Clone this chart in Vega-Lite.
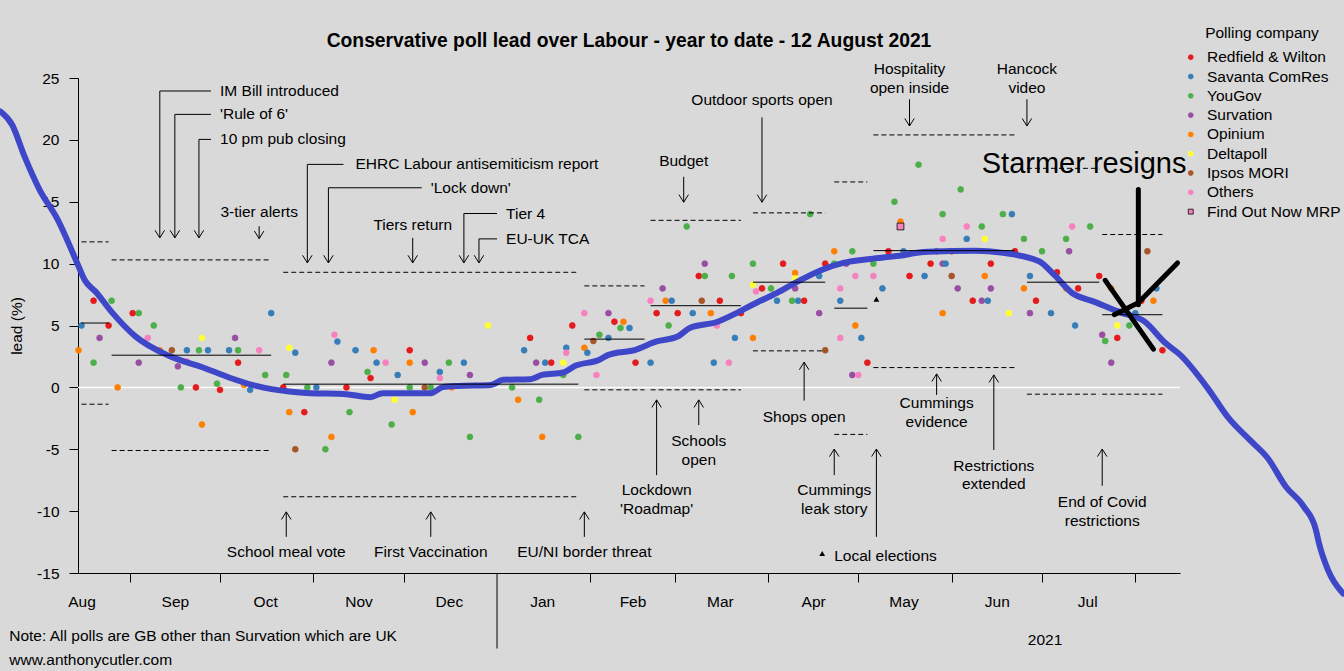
{
  "$schema": "https://vega.github.io/schema/vega-lite/v6.json",
  "width": 1102,
  "height": 495,
  "autosize": {"type": "none"},
  "padding": {"left": 78, "top": 78, "right": 164, "bottom": 98},
  "background": "#d9d9d9",
  "title": {
    "text": "Conservative poll lead over Labour - year to date - 12 August 2021",
    "fontSize": 19.3,
    "fontWeight": "bold",
    "color": "black",
    "anchor": "middle",
    "frame": "group",
    "offset": -26
  },
  "config": {
    "font": "Liberation Sans",
    "view": {"stroke": null},
    "axis": {
      "domainColor": "black",
      "tickColor": "black",
      "labelColor": "black",
      "labelFontSize": 15.5,
      "titleColor": "black",
      "titleFontSize": 15.5,
      "titleFontWeight": "normal",
      "grid": false,
      "labelFlush": false,
      "labelOverlap": false
    },
    "axisY": {"tickSize": 9, "labelPadding": 10, "titlePadding": 12},
    "text": {"fontSize": 15.5, "color": "black"}
  },
  "datasets": {
    "polls": [
      {"date": "2020-08-15", "lead": 3, "pollster": "Opinium"},
      {"date": "2020-08-16", "lead": 5, "pollster": "Savanta ComRes"},
      {"date": "2020-08-20", "lead": 7, "pollster": "Redfield & Wilton"},
      {"date": "2020-08-20", "lead": 2, "pollster": "YouGov"},
      {"date": "2020-08-22", "lead": 4, "pollster": "Survation"},
      {"date": "2020-08-26", "lead": 7, "pollster": "YouGov"},
      {"date": "2020-08-25", "lead": 5, "pollster": "Redfield & Wilton"},
      {"date": "2020-08-28", "lead": 0, "pollster": "Opinium"},
      {"date": "2020-09-02", "lead": 6, "pollster": "Redfield & Wilton"},
      {"date": "2020-09-04", "lead": 6, "pollster": "YouGov"},
      {"date": "2020-09-04", "lead": 2, "pollster": "Survation"},
      {"date": "2020-09-07", "lead": 4, "pollster": "Others"},
      {"date": "2020-09-09", "lead": 5, "pollster": "YouGov"},
      {"date": "2020-09-11", "lead": 3, "pollster": "Opinium"},
      {"date": "2020-09-15", "lead": 3, "pollster": "Ipsos MORI"},
      {"date": "2020-09-17", "lead": 1.7, "pollster": "Survation"},
      {"date": "2020-09-20", "lead": 2.1, "pollster": "Others"},
      {"date": "2020-09-18", "lead": 0, "pollster": "YouGov"},
      {"date": "2020-09-20", "lead": 3, "pollster": "Savanta ComRes"},
      {"date": "2020-09-23", "lead": 0, "pollster": "Redfield & Wilton"},
      {"date": "2020-09-24", "lead": 3, "pollster": "YouGov"},
      {"date": "2020-09-25", "lead": 4, "pollster": "Deltapoll"},
      {"date": "2020-09-27", "lead": 3, "pollster": "Savanta ComRes"},
      {"date": "2020-09-25", "lead": -3, "pollster": "Opinium"},
      {"date": "2020-09-30", "lead": 0.3, "pollster": "YouGov"},
      {"date": "2020-10-01", "lead": -0.2, "pollster": "Redfield & Wilton"},
      {"date": "2020-10-04", "lead": 3, "pollster": "Savanta ComRes"},
      {"date": "2020-10-06", "lead": 4, "pollster": "Survation"},
      {"date": "2020-10-07", "lead": 3, "pollster": "YouGov"},
      {"date": "2020-10-07", "lead": 2, "pollster": "Redfield & Wilton"},
      {"date": "2020-10-09", "lead": 0.2, "pollster": "Opinium"},
      {"date": "2020-10-11", "lead": -0.2, "pollster": "Savanta ComRes"},
      {"date": "2020-10-14", "lead": 3, "pollster": "Others"},
      {"date": "2020-10-16", "lead": 1, "pollster": "YouGov"},
      {"date": "2020-10-18", "lead": 6, "pollster": "Savanta ComRes"},
      {"date": "2020-10-23", "lead": 1, "pollster": "YouGov"},
      {"date": "2020-10-24", "lead": 3.2, "pollster": "Deltapoll"},
      {"date": "2020-10-26", "lead": 2.8, "pollster": "Savanta ComRes"},
      {"date": "2020-10-22", "lead": 0, "pollster": "Redfield & Wilton"},
      {"date": "2020-10-24", "lead": -2, "pollster": "Opinium"},
      {"date": "2020-10-29", "lead": -2, "pollster": "Redfield & Wilton"},
      {"date": "2020-10-30", "lead": 0, "pollster": "YouGov"},
      {"date": "2020-11-02", "lead": 0, "pollster": "Savanta ComRes"},
      {"date": "2020-10-26", "lead": -5, "pollster": "Ipsos MORI"},
      {"date": "2020-11-05", "lead": -5, "pollster": "YouGov"},
      {"date": "2020-11-07", "lead": -4, "pollster": "Opinium"},
      {"date": "2020-11-07", "lead": 2, "pollster": "Survation"},
      {"date": "2020-11-08", "lead": 4.25, "pollster": "Others"},
      {"date": "2020-11-09", "lead": 3.7, "pollster": "Savanta ComRes"},
      {"date": "2020-11-12", "lead": 0, "pollster": "Redfield & Wilton"},
      {"date": "2020-11-13", "lead": -2, "pollster": "YouGov"},
      {"date": "2020-11-15", "lead": 3, "pollster": "Savanta ComRes"},
      {"date": "2020-11-19", "lead": 1.25, "pollster": "YouGov"},
      {"date": "2020-11-20", "lead": 0.75, "pollster": "Redfield & Wilton"},
      {"date": "2020-11-21", "lead": 3, "pollster": "Opinium"},
      {"date": "2020-11-22", "lead": 2, "pollster": "Savanta ComRes"},
      {"date": "2020-11-25", "lead": 2, "pollster": "Others"},
      {"date": "2020-11-28", "lead": -1, "pollster": "Deltapoll"},
      {"date": "2020-11-27", "lead": -3, "pollster": "YouGov"},
      {"date": "2020-11-29", "lead": 1, "pollster": "Savanta ComRes"},
      {"date": "2020-12-03", "lead": 3, "pollster": "Redfield & Wilton"},
      {"date": "2020-12-03", "lead": 2, "pollster": "Opinium"},
      {"date": "2020-12-03", "lead": 0, "pollster": "YouGov"},
      {"date": "2020-12-04", "lead": -2, "pollster": "Opinium"},
      {"date": "2020-12-08", "lead": 2, "pollster": "Survation"},
      {"date": "2020-12-08", "lead": 0, "pollster": "Ipsos MORI"},
      {"date": "2020-12-10", "lead": 0, "pollster": "YouGov"},
      {"date": "2020-12-13", "lead": 1.25, "pollster": "Savanta ComRes"},
      {"date": "2020-12-13", "lead": 0.75, "pollster": "Others"},
      {"date": "2020-12-16", "lead": 2, "pollster": "YouGov"},
      {"date": "2020-12-17", "lead": 0, "pollster": "Opinium"},
      {"date": "2020-12-21", "lead": 2, "pollster": "Savanta ComRes"},
      {"date": "2020-12-23", "lead": -4, "pollster": "YouGov"},
      {"date": "2020-12-23", "lead": 1, "pollster": "Survation"},
      {"date": "2020-12-29", "lead": 5, "pollster": "Deltapoll"},
      {"date": "2021-01-06", "lead": 0, "pollster": "YouGov"},
      {"date": "2021-01-08", "lead": -1, "pollster": "Opinium"},
      {"date": "2021-01-10", "lead": 3, "pollster": "Savanta ComRes"},
      {"date": "2021-01-12", "lead": 4, "pollster": "Redfield & Wilton"},
      {"date": "2021-01-14", "lead": 2, "pollster": "Survation"},
      {"date": "2021-01-15", "lead": -1, "pollster": "YouGov"},
      {"date": "2021-01-16", "lead": -4, "pollster": "Opinium"},
      {"date": "2021-01-17", "lead": 2, "pollster": "Savanta ComRes"},
      {"date": "2021-01-19", "lead": 2, "pollster": "Redfield & Wilton"},
      {"date": "2021-01-23", "lead": 1, "pollster": "YouGov"},
      {"date": "2021-01-23", "lead": 2, "pollster": "Deltapoll"},
      {"date": "2021-01-24", "lead": 3.2, "pollster": "Savanta ComRes"},
      {"date": "2021-01-24", "lead": 2.8, "pollster": "Others"},
      {"date": "2021-01-26", "lead": 5, "pollster": "Redfield & Wilton"},
      {"date": "2021-01-28", "lead": -4, "pollster": "YouGov"},
      {"date": "2021-01-30", "lead": 6, "pollster": "Others"},
      {"date": "2021-01-30", "lead": 3.2, "pollster": "Opinium"},
      {"date": "2021-01-31", "lead": 2.8, "pollster": "Savanta ComRes"},
      {"date": "2021-02-02", "lead": 3.75, "pollster": "Ipsos MORI"},
      {"date": "2021-02-04", "lead": 4.25, "pollster": "YouGov"},
      {"date": "2021-02-03", "lead": 1, "pollster": "Others"},
      {"date": "2021-02-07", "lead": 6, "pollster": "Survation"},
      {"date": "2021-02-07", "lead": 4, "pollster": "Savanta ComRes"},
      {"date": "2021-02-09", "lead": 5.3, "pollster": "Redfield & Wilton"},
      {"date": "2021-02-11", "lead": 4.8, "pollster": "YouGov"},
      {"date": "2021-02-12", "lead": 5.3, "pollster": "Opinium"},
      {"date": "2021-02-14", "lead": 4.8, "pollster": "Savanta ComRes"},
      {"date": "2021-02-16", "lead": 2, "pollster": "Redfield & Wilton"},
      {"date": "2021-02-21", "lead": 2, "pollster": "Savanta ComRes"},
      {"date": "2021-02-21", "lead": 7, "pollster": "Others"},
      {"date": "2021-02-23", "lead": 6, "pollster": "Redfield & Wilton"},
      {"date": "2021-02-25", "lead": 8, "pollster": "Survation"},
      {"date": "2021-02-26", "lead": 7, "pollster": "Opinium"},
      {"date": "2021-02-27", "lead": 5, "pollster": "YouGov"},
      {"date": "2021-02-28", "lead": 7, "pollster": "Savanta ComRes"},
      {"date": "2021-03-02", "lead": 6, "pollster": "Redfield & Wilton"},
      {"date": "2021-03-05", "lead": 13, "pollster": "YouGov"},
      {"date": "2021-03-07", "lead": 6, "pollster": "Savanta ComRes"},
      {"date": "2021-03-09", "lead": 9, "pollster": "Redfield & Wilton"},
      {"date": "2021-03-11", "lead": 10, "pollster": "Survation"},
      {"date": "2021-03-11", "lead": 9, "pollster": "YouGov"},
      {"date": "2021-03-10", "lead": 7, "pollster": "Ipsos MORI"},
      {"date": "2021-03-13", "lead": 6, "pollster": "Opinium"},
      {"date": "2021-03-14", "lead": 2, "pollster": "Savanta ComRes"},
      {"date": "2021-03-15", "lead": 5, "pollster": "Others"},
      {"date": "2021-03-16", "lead": 7, "pollster": "Redfield & Wilton"},
      {"date": "2021-03-19", "lead": 2, "pollster": "Others"},
      {"date": "2021-03-20", "lead": 9, "pollster": "YouGov"},
      {"date": "2021-03-21", "lead": 4, "pollster": "Savanta ComRes"},
      {"date": "2021-03-23", "lead": 6, "pollster": "Redfield & Wilton"},
      {"date": "2021-03-27", "lead": 10, "pollster": "YouGov"},
      {"date": "2021-03-27", "lead": 4, "pollster": "Opinium"},
      {"date": "2021-03-27", "lead": 8.3, "pollster": "Deltapoll"},
      {"date": "2021-03-28", "lead": 7.75, "pollster": "Others"},
      {"date": "2021-03-30", "lead": 8, "pollster": "Redfield & Wilton"},
      {"date": "2021-04-02", "lead": 8, "pollster": "YouGov"},
      {"date": "2021-04-04", "lead": 7, "pollster": "Savanta ComRes"},
      {"date": "2021-04-06", "lead": 10, "pollster": "Redfield & Wilton"},
      {"date": "2021-04-09", "lead": 7, "pollster": "YouGov"},
      {"date": "2021-04-10", "lead": 9.25, "pollster": "Opinium"},
      {"date": "2021-04-10", "lead": 8.8, "pollster": "Deltapoll"},
      {"date": "2021-04-10", "lead": 8, "pollster": "Survation"},
      {"date": "2021-04-11", "lead": 7, "pollster": "Savanta ComRes"},
      {"date": "2021-04-13", "lead": 7, "pollster": "Redfield & Wilton"},
      {"date": "2021-04-15", "lead": 14, "pollster": "YouGov"},
      {"date": "2021-04-18", "lead": 6, "pollster": "Survation"},
      {"date": "2021-04-18", "lead": 9, "pollster": "Savanta ComRes"},
      {"date": "2021-04-20", "lead": 10, "pollster": "Redfield & Wilton"},
      {"date": "2021-04-20", "lead": 3, "pollster": "Ipsos MORI"},
      {"date": "2021-04-23", "lead": 10, "pollster": "YouGov"},
      {"date": "2021-04-23", "lead": 11, "pollster": "Opinium"},
      {"date": "2021-04-25", "lead": 8, "pollster": "Others"},
      {"date": "2021-04-25", "lead": 7, "pollster": "Savanta ComRes"},
      {"date": "2021-04-25", "lead": 4, "pollster": "Others"},
      {"date": "2021-04-27", "lead": 10, "pollster": "Survation"},
      {"date": "2021-04-29", "lead": 11, "pollster": "YouGov"},
      {"date": "2021-04-30", "lead": 9, "pollster": "Others"},
      {"date": "2021-04-29", "lead": 1, "pollster": "Survation"},
      {"date": "2021-05-01", "lead": 1, "pollster": "Others"},
      {"date": "2021-04-30", "lead": 5, "pollster": "Opinium"},
      {"date": "2021-05-02", "lead": 4, "pollster": "Savanta ComRes"},
      {"date": "2021-05-04", "lead": 2, "pollster": "Redfield & Wilton"},
      {"date": "2021-05-06", "lead": 10, "pollster": "YouGov"},
      {"date": "2021-05-06", "lead": 9, "pollster": "Others"},
      {"date": "2021-05-09", "lead": 8, "pollster": "Savanta ComRes"},
      {"date": "2021-05-11", "lead": 11, "pollster": "Redfield & Wilton"},
      {"date": "2021-05-21", "lead": 18, "pollster": "YouGov"},
      {"date": "2021-06-04", "lead": 16, "pollster": "YouGov"},
      {"date": "2021-05-13", "lead": 15, "pollster": "YouGov"},
      {"date": "2021-05-29", "lead": 14, "pollster": "YouGov"},
      {"date": "2021-06-18", "lead": 14, "pollster": "YouGov"},
      {"date": "2021-06-21", "lead": 14, "pollster": "Savanta ComRes"},
      {"date": "2021-05-15", "lead": 13.4, "pollster": "Opinium"},
      {"date": "2021-05-15", "lead": 13, "pollster": "Find Out Now MRP"},
      {"date": "2021-06-06", "lead": 13, "pollster": "Others"},
      {"date": "2021-06-11", "lead": 13, "pollster": "YouGov"},
      {"date": "2021-07-11", "lead": 13, "pollster": "Others"},
      {"date": "2021-07-17", "lead": 13, "pollster": "YouGov"},
      {"date": "2021-05-29", "lead": 12, "pollster": "Others"},
      {"date": "2021-06-06", "lead": 12, "pollster": "Savanta ComRes"},
      {"date": "2021-06-12", "lead": 12, "pollster": "Deltapoll"},
      {"date": "2021-06-25", "lead": 12, "pollster": "YouGov"},
      {"date": "2021-07-09", "lead": 12, "pollster": "YouGov"},
      {"date": "2021-05-16", "lead": 11, "pollster": "Savanta ComRes"},
      {"date": "2021-05-27", "lead": 11, "pollster": "Survation"},
      {"date": "2021-06-01", "lead": 11, "pollster": "Redfield & Wilton"},
      {"date": "2021-06-22", "lead": 11, "pollster": "Redfield & Wilton"},
      {"date": "2021-07-01", "lead": 11, "pollster": "YouGov"},
      {"date": "2021-07-10", "lead": 11, "pollster": "Survation"},
      {"date": "2021-08-05", "lead": 11, "pollster": "Ipsos MORI"},
      {"date": "2021-05-25", "lead": 10, "pollster": "Redfield & Wilton"},
      {"date": "2021-05-29", "lead": 10, "pollster": "Survation"},
      {"date": "2021-05-30", "lead": 10, "pollster": "Savanta ComRes"},
      {"date": "2021-06-14", "lead": 10, "pollster": "Redfield & Wilton"},
      {"date": "2021-05-18", "lead": 9, "pollster": "Redfield & Wilton"},
      {"date": "2021-05-23", "lead": 9, "pollster": "Savanta ComRes"},
      {"date": "2021-06-01", "lead": 9, "pollster": "Ipsos MORI"},
      {"date": "2021-06-12", "lead": 9, "pollster": "Opinium"},
      {"date": "2021-06-27", "lead": 9, "pollster": "Savanta ComRes"},
      {"date": "2021-07-06", "lead": 9.3, "pollster": "Redfield & Wilton"},
      {"date": "2021-07-20", "lead": 9, "pollster": "Redfield & Wilton"},
      {"date": "2021-06-03", "lead": 8, "pollster": "Survation"},
      {"date": "2021-06-14", "lead": 8, "pollster": "Survation"},
      {"date": "2021-06-25", "lead": 8, "pollster": "Opinium"},
      {"date": "2021-07-09", "lead": 8, "pollster": "Opinium"},
      {"date": "2021-07-13", "lead": 8, "pollster": "Redfield & Wilton"},
      {"date": "2021-07-24", "lead": 8, "pollster": "Opinium"},
      {"date": "2021-08-08", "lead": 8, "pollster": "Savanta ComRes"},
      {"date": "2021-06-08", "lead": 7, "pollster": "Redfield & Wilton"},
      {"date": "2021-06-11", "lead": 7, "pollster": "Survation"},
      {"date": "2021-06-13", "lead": 7, "pollster": "Savanta ComRes"},
      {"date": "2021-06-29", "lead": 7, "pollster": "Redfield & Wilton"},
      {"date": "2021-08-03", "lead": 7, "pollster": "Redfield & Wilton"},
      {"date": "2021-08-07", "lead": 7, "pollster": "Opinium"},
      {"date": "2021-05-29", "lead": 6, "pollster": "Opinium"},
      {"date": "2021-06-20", "lead": 6, "pollster": "Deltapoll"},
      {"date": "2021-06-27", "lead": 6, "pollster": "Survation"},
      {"date": "2021-07-04", "lead": 6, "pollster": "Savanta ComRes"},
      {"date": "2021-08-01", "lead": 6, "pollster": "Savanta ComRes"},
      {"date": "2021-07-12", "lead": 5, "pollster": "Savanta ComRes"},
      {"date": "2021-07-26", "lead": 5, "pollster": "Deltapoll"},
      {"date": "2021-07-30", "lead": 5, "pollster": "YouGov"},
      {"date": "2021-07-21", "lead": 4.25, "pollster": "Survation"},
      {"date": "2021-07-22", "lead": 3.75, "pollster": "YouGov"},
      {"date": "2021-07-26", "lead": 4, "pollster": "Redfield & Wilton"},
      {"date": "2021-07-24", "lead": 2, "pollster": "Survation"},
      {"date": "2021-08-10", "lead": 3, "pollster": "Redfield & Wilton"}
    ],
    "trend": [
      {"date": "2020-07-20", "lead": 22.3},
      {"date": "2020-07-24", "lead": 21.2},
      {"date": "2020-07-28", "lead": 18.7},
      {"date": "2020-08-02", "lead": 16.0},
      {"date": "2020-08-08", "lead": 13.6},
      {"date": "2020-08-15", "lead": 9.8},
      {"date": "2020-08-17", "lead": 8.7},
      {"date": "2020-08-21", "lead": 7.65},
      {"date": "2020-08-26", "lead": 6.1},
      {"date": "2020-09-03", "lead": 4.1},
      {"date": "2020-09-14", "lead": 2.55},
      {"date": "2020-09-26", "lead": 1.55},
      {"date": "2020-10-04", "lead": 0.8},
      {"date": "2020-10-13", "lead": 0.12},
      {"date": "2020-10-24", "lead": -0.34},
      {"date": "2020-10-31", "lead": -0.47},
      {"date": "2020-11-11", "lead": -0.53},
      {"date": "2020-11-20", "lead": -0.79},
      {"date": "2020-11-24", "lead": -0.47},
      {"date": "2020-12-10", "lead": -0.47},
      {"date": "2020-12-14", "lead": 0.02},
      {"date": "2020-12-19", "lead": 0.12},
      {"date": "2020-12-30", "lead": 0.2},
      {"date": "2021-01-03", "lead": 0.61},
      {"date": "2021-01-12", "lead": 0.66},
      {"date": "2021-01-16", "lead": 1.01},
      {"date": "2021-01-23", "lead": 1.2},
      {"date": "2021-01-27", "lead": 1.74},
      {"date": "2021-02-04", "lead": 2.23},
      {"date": "2021-02-07", "lead": 2.63},
      {"date": "2021-02-16", "lead": 3.04},
      {"date": "2021-02-23", "lead": 3.71},
      {"date": "2021-03-02", "lead": 4.11},
      {"date": "2021-03-06", "lead": 4.79},
      {"date": "2021-03-15", "lead": 5.28},
      {"date": "2021-03-22", "lead": 6.06},
      {"date": "2021-03-28", "lead": 6.82},
      {"date": "2021-04-04", "lead": 7.63},
      {"date": "2021-04-10", "lead": 8.44},
      {"date": "2021-04-19", "lead": 9.51},
      {"date": "2021-04-26", "lead": 10.06},
      {"date": "2021-05-05", "lead": 10.38},
      {"date": "2021-05-13", "lead": 10.59},
      {"date": "2021-05-24", "lead": 10.95},
      {"date": "2021-06-09", "lead": 11.05},
      {"date": "2021-06-18", "lead": 10.87},
      {"date": "2021-06-30", "lead": 10.19},
      {"date": "2021-07-05", "lead": 9.11},
      {"date": "2021-07-11", "lead": 7.63},
      {"date": "2021-07-18", "lead": 6.95},
      {"date": "2021-07-27", "lead": 6.06},
      {"date": "2021-08-04", "lead": 5.33},
      {"date": "2021-08-11", "lead": 3.58},
      {"date": "2021-08-16", "lead": 2.6},
      {"date": "2021-08-25", "lead": -0.06},
      {"date": "2021-09-01", "lead": -2.49},
      {"date": "2021-09-08", "lead": -4.25},
      {"date": "2021-09-14", "lead": -5.73},
      {"date": "2021-09-20", "lead": -8.03},
      {"date": "2021-09-26", "lead": -9.65},
      {"date": "2021-09-30", "lead": -11.54},
      {"date": "2021-10-01", "lead": -12.6},
      {"date": "2021-10-04", "lead": -14.77},
      {"date": "2021-10-09", "lead": -16.66}
    ],
    "bands": [
      {"start": "2020-08-16", "end": "2020-08-25", "upper": 11.76, "mean": 5.2, "lower": -1.36},
      {"start": "2020-08-26", "end": "2020-10-18", "upper": 10.3, "mean": 2.6, "lower": -5.1},
      {"start": "2020-10-22", "end": "2021-01-28", "upper": 9.3, "mean": 0.26, "lower": -8.84},
      {"start": "2021-01-30", "end": "2021-02-19", "upper": 8.2, "mean": 3.9, "lower": -0.2},
      {"start": "2021-02-21", "end": "2021-03-23", "upper": 13.5, "mean": 6.6, "lower": -0.2},
      {"start": "2021-03-27", "end": "2021-04-20", "upper": 14.1, "mean": 8.5, "lower": 2.95},
      {"start": "2021-04-23", "end": "2021-05-04", "upper": 16.6, "mean": 6.4, "lower": -3.8},
      {"start": "2021-05-06", "end": "2021-06-22", "upper": 20.4, "mean": 11.05, "lower": 1.6},
      {"start": "2021-06-26", "end": "2021-07-20", "upper": 17.7, "mean": 8.5, "lower": -0.55},
      {"start": "2021-07-21", "end": "2021-08-10", "upper": 12.35, "mean": 5.87, "lower": -0.55}
    ],
    "arrows": [
      {"event": "IM Bill introduced", "date": "2020-09-11", "from": 23.95, "to": 12.08},
      {"event": "Rule of 6", "date": "2020-09-16", "from": 22.06, "to": 12.08},
      {"event": "10 pm pub closing", "date": "2020-09-24", "from": 20.04, "to": 12.08},
      {"event": "3-tier alerts", "date": "2020-10-14", "from": 13.02, "to": 12.02},
      {"event": "EHRC report", "date": "2020-10-30", "from": 18.02, "to": 10.06},
      {"event": "Lock down", "date": "2020-11-06", "from": 16.13, "to": 10.06},
      {"event": "Tiers return", "date": "2020-12-04", "from": 12.08, "to": 10.06},
      {"event": "Tier 4", "date": "2020-12-21", "from": 14.05, "to": 10.06},
      {"event": "EU-UK TCA", "date": "2020-12-26", "from": 12.0, "to": 10.06},
      {"event": "Budget", "date": "2021-03-04", "from": 17.02, "to": 14.96},
      {"event": "Outdoor sports open", "date": "2021-03-30", "from": 21.82, "to": 14.96},
      {"event": "Hospitality open inside", "date": "2021-05-18", "from": 23.28, "to": 21.12},
      {"event": "Hancock video", "date": "2021-06-26", "from": 23.28, "to": 21.12},
      {"event": "School meal vote", "date": "2020-10-23", "from": -12.08, "to": -10.06},
      {"event": "First Vaccination", "date": "2020-12-10", "from": -12.08, "to": -10.06},
      {"event": "EU/NI border threat", "date": "2021-01-30", "from": -12.08, "to": -10.06},
      {"event": "Lockdown Roadmap", "date": "2021-02-23", "from": -7.09, "to": -1.01},
      {"event": "Schools open", "date": "2021-03-09", "from": -3.04, "to": -1.01},
      {"event": "Shops open", "date": "2021-04-13", "from": -1.07, "to": 2.04},
      {"event": "Cummings leak story", "date": "2021-04-23", "from": -7.09, "to": -4.98},
      {"event": "Local elections", "date": "2021-05-07", "from": -12.08, "to": -4.98},
      {"event": "Cummings evidence", "date": "2021-05-27", "from": -0.61, "to": 1.09},
      {"event": "Restrictions extended", "date": "2021-06-15", "from": -5.06, "to": 1.01},
      {"event": "End of Covid restrictions", "date": "2021-07-21", "from": -7.95, "to": -4.98}
    ],
    "elbows": [
      {"event": "IM Bill introduced", "start": "2020-09-11", "end": "2020-09-28", "lead": 23.95},
      {"event": "Rule of 6", "start": "2020-09-16", "end": "2020-09-28", "lead": 22.06},
      {"event": "10 pm pub closing", "start": "2020-09-24", "end": "2020-09-28", "lead": 20.04},
      {"event": "EHRC report", "start": "2020-10-30", "end": "2020-11-11", "lead": 18.02},
      {"event": "Lock down", "start": "2020-11-06", "end": "2020-12-07", "lead": 16.13},
      {"event": "Tier 4", "start": "2020-12-21", "end": "2021-01-01", "lead": 14.05},
      {"event": "EU-UK TCA", "start": "2020-12-26", "end": "2021-01-01", "lead": 12.0}
    ],
    "labels_left": [
      {"label": "IM Bill introduced", "date": "2020-10-01", "lead": 23.95},
      {"label": "'Rule of 6'", "date": "2020-10-01", "lead": 22.06},
      {"label": "10 pm pub closing", "date": "2020-10-01", "lead": 20.04},
      {"label": "EHRC Labour antisemiticism report", "date": "2020-11-15", "lead": 18.02},
      {"label": "'Lock down'", "date": "2020-12-10", "lead": 16.13},
      {"label": "Tier 4", "date": "2021-01-04", "lead": 14.05},
      {"label": "EU-UK TCA", "date": "2021-01-04", "lead": 12.0},
      {"label": "Local elections", "date": "2021-04-23", "lead": -13.62},
      {"label": "Note: All polls are GB other than Survation which are UK", "date": "2020-07-23", "lead": -20.1},
      {"label": "www.anthonycutler.com", "date": "2020-07-23", "lead": -22.0}
    ],
    "labels_centre": [
      {"label": "3-tier alerts", "date": "2020-10-14", "lead": 14.17},
      {"label": "Tiers return", "date": "2020-12-04", "lead": 13.16},
      {"label": "Budget", "date": "2021-03-04", "lead": 18.26},
      {"label": "Outdoor sports open", "date": "2021-03-30", "lead": 23.2},
      {"label": "Hospitality\nopen inside", "date": "2021-05-18", "lead": 25.71},
      {"label": "Hancock\nvideo", "date": "2021-06-26", "lead": 25.71},
      {"label": "School meal vote", "date": "2020-10-23", "lead": -13.34},
      {"label": "First Vaccination", "date": "2020-12-10", "lead": -13.34},
      {"label": "EU/NI border threat", "date": "2021-01-30", "lead": -13.34},
      {"label": "Lockdown\n'Roadmap'", "date": "2021-02-23", "lead": -8.3},
      {"label": "Schools\nopen", "date": "2021-03-09", "lead": -4.33},
      {"label": "Shops open", "date": "2021-04-13", "lead": -2.38},
      {"label": "Cummings\nleak story", "date": "2021-04-23", "lead": -8.3},
      {"label": "Cummings\nevidence", "date": "2021-05-27", "lead": -1.28},
      {"label": "Restrictions\nextended", "date": "2021-06-15", "lead": -6.33},
      {"label": "End of Covid\nrestrictions", "date": "2021-07-21", "lead": -9.3},
      {"label": "2021", "date": "2021-07-02", "lead": -20.45}
    ],
    "markers": [
      {"what": "Local elections", "date": "2021-05-07", "lead": 7.13},
      {"what": "Local elections key", "date": "2021-04-19", "lead": -13.43}
    ],
    "starmer": [
      {"stroke": "shaft", "seq": 1, "date": "2021-08-02", "lead": 15.99},
      {"stroke": "shaft", "seq": 2, "date": "2021-08-02", "lead": 6.68},
      {"stroke": "cross", "seq": 1, "date": "2021-07-22", "lead": 8.65},
      {"stroke": "cross", "seq": 2, "date": "2021-08-07", "lead": 3.09},
      {"stroke": "tick", "seq": 1, "date": "2021-07-25", "lead": 5.87},
      {"stroke": "tick", "seq": 2, "date": "2021-08-02", "lead": 6.84},
      {"stroke": "tick", "seq": 3, "date": "2021-08-15", "lead": 10.06}
    ],
    "starmer_label": [
      {"label": "Starmer resigns", "date": "2021-06-11", "lead": 17.29}
    ],
    "year_line": [
      {"date": "2021-01-01", "from": -15, "to": -21.1}
    ]
  },
  "layer": [
    {
      "data": {"values": [{"lead": 0}]},
      "mark": {"type": "rule", "color": "white", "strokeWidth": 1.5},
      "encoding": {
        "y": {"field": "lead", "type": "quantitative"}
      }
    },
    {
      "data": {"name": "polls"},
      "mark": {"type": "point", "filled": true, "opacity": 1, "strokeWidth": 0.8},
      "encoding": {
        "x": {
          "field": "date",
          "type": "temporal",
          "scale": {
            "type": "utc",
            "domain": [
              {"year": 2020, "month": 8, "date": 14, "hours": 20, "utc": true},
              {"year": 2021, "month": 8, "date": 15, "hours": 20, "utc": true}
            ]
          },
          "axis": {
            "orient": "bottom",
            "title": null,
            "format": "%b",
            "ticks": false,
            "tickSize": 0,
            "labelPadding": 21,
            "values": [
              {"year": 2020, "month": 8, "date": 16, "utc": true},
              {"year": 2020, "month": 9, "date": 16, "utc": true},
              {"year": 2020, "month": 10, "date": 16, "utc": true},
              {"year": 2020, "month": 11, "date": 16, "utc": true},
              {"year": 2020, "month": 12, "date": 16, "utc": true},
              {"year": 2021, "month": 1, "date": 16, "utc": true},
              {"year": 2021, "month": 2, "date": 15, "utc": true},
              {"year": 2021, "month": 3, "date": 16, "utc": true},
              {"year": 2021, "month": 4, "date": 16, "utc": true},
              {"year": 2021, "month": 5, "date": 16, "utc": true},
              {"year": 2021, "month": 6, "date": 16, "utc": true},
              {"year": 2021, "month": 7, "date": 16, "utc": true}
            ]
          }
        },
        "y": {
          "field": "lead",
          "type": "quantitative",
          "scale": {"domain": [-15, 25], "nice": false, "zero": false},
          "axis": {
            "title": "lead (%)",
            "values": [-15, -10, -5, 0, 5, 10, 15, 20, 25],
            "labelExpr": "'' + datum.value"
          }
        },
        "color": {
          "field": "pollster",
          "type": "nominal",
          "scale": {
            "domain": ["Redfield & Wilton", "Savanta ComRes", "YouGov", "Survation", "Opinium", "Deltapoll", "Ipsos MORI", "Others", "Find Out Now MRP"],
            "range": ["#e41a1c", "#377eb8", "#4daf4a", "#984ea3", "#ff7f00", "#ffff33", "#a65628", "#f781bf", "#f781bf"]
          },
          "legend": {
            "orient": "none",
            "legendX": 1105,
            "legendY": -52.5,
            "title": "Polling company",
            "titleFontSize": 15.5,
            "titleFontWeight": "normal",
            "titleColor": "black",
            "titleAnchor": "middle",
            "titlePadding": 8.5,
            "labelFontSize": 15.5,
            "labelColor": "black",
            "labelOffset": 8.5,
            "symbolSize": 24,
            "symbolStrokeWidth": 0.8,
            "rowPadding": 2.3,
            "padding": 0
          }
        },
        "shape": {
          "field": "pollster",
          "type": "nominal",
          "scale": {
            "domain": ["Redfield & Wilton", "Savanta ComRes", "YouGov", "Survation", "Opinium", "Deltapoll", "Ipsos MORI", "Others", "Find Out Now MRP"],
            "range": ["circle", "circle", "circle", "circle", "circle", "circle", "circle", "circle", "square"]
          }
        },
        "stroke": {
          "field": "pollster",
          "type": "nominal",
          "scale": {
            "domain": ["Redfield & Wilton", "Savanta ComRes", "YouGov", "Survation", "Opinium", "Deltapoll", "Ipsos MORI", "Others", "Find Out Now MRP"],
            "range": ["#e41a1c", "#377eb8", "#4daf4a", "#984ea3", "#ff7f00", "#ffff33", "#a65628", "#f781bf", "black"]
          }
        },
        "size": {
          "condition": {"test": "datum.pollster === 'Find Out Now MRP'", "value": 46},
          "value": 34
        }
      }
    },
    {
      "data": {"name": "trend"},
      "mark": {"type": "line", "color": "#3f47c9", "strokeWidth": 6, "interpolate": "monotone", "strokeCap": "round", "clip": false},
      "encoding": {
        "x": {
          "field": "date",
          "type": "temporal",
          "axis": {
            "orient": "bottom",
            "title": null,
            "labels": false,
            "domain": false,
            "tickSize": 9,
            "values": [
              {"year": 2020, "month": 9, "date": 1, "utc": true},
              {"year": 2020, "month": 10, "date": 1, "utc": true},
              {"year": 2020, "month": 11, "date": 1, "utc": true},
              {"year": 2020, "month": 12, "date": 1, "utc": true},
              {"year": 2021, "month": 2, "date": 1, "utc": true},
              {"year": 2021, "month": 3, "date": 1, "utc": true},
              {"year": 2021, "month": 4, "date": 1, "utc": true},
              {"year": 2021, "month": 5, "date": 1, "utc": true},
              {"year": 2021, "month": 6, "date": 1, "utc": true},
              {"year": 2021, "month": 7, "date": 1, "utc": true},
              {"year": 2021, "month": 8, "date": 1, "utc": true}
            ]
          }
        },
        "y": {"field": "lead", "type": "quantitative"}
      }
    },
    {
      "data": {"name": "bands"},
      "mark": {"type": "rule", "color": "black", "strokeWidth": 1},
      "encoding": {
        "x": {"field": "start", "type": "temporal", "axis": null},
        "x2": {"field": "end"},
        "y": {"field": "mean", "type": "quantitative"}
      }
    },
    {
      "data": {"name": "bands"},
      "mark": {"type": "rule", "color": "black", "strokeWidth": 1, "strokeDash": [5, 3]},
      "encoding": {
        "x": {"field": "start", "type": "temporal", "axis": null},
        "x2": {"field": "end"},
        "y": {"field": "upper", "type": "quantitative"}
      }
    },
    {
      "data": {"name": "bands"},
      "mark": {"type": "rule", "color": "black", "strokeWidth": 1, "strokeDash": [5, 3]},
      "encoding": {
        "x": {"field": "start", "type": "temporal", "axis": null},
        "x2": {"field": "end"},
        "y": {"field": "lower", "type": "quantitative"}
      }
    },
    {
      "data": {"name": "arrows"},
      "mark": {"type": "rule", "color": "black", "strokeWidth": 1},
      "encoding": {
        "x": {"field": "date", "type": "temporal", "axis": null},
        "y": {"field": "from", "type": "quantitative"},
        "y2": {"field": "to"}
      }
    },
    {
      "data": {"name": "arrows"},
      "transform": [{"filter": "datum.to < datum.from"}],
      "mark": {"type": "point", "shape": "M-1,-1.6L0,0L1,-1.6", "filled": false, "color": "black", "strokeWidth": 1, "size": 90, "opacity": 1},
      "encoding": {
        "x": {"field": "date", "type": "temporal", "axis": null},
        "y": {"field": "to", "type": "quantitative"}
      }
    },
    {
      "data": {"name": "arrows"},
      "transform": [{"filter": "datum.to > datum.from"}],
      "mark": {"type": "point", "shape": "M-1,1.6L0,0L1,1.6", "filled": false, "color": "black", "strokeWidth": 1, "size": 90, "opacity": 1},
      "encoding": {
        "x": {"field": "date", "type": "temporal", "axis": null},
        "y": {"field": "to", "type": "quantitative"}
      }
    },
    {
      "data": {"name": "elbows"},
      "mark": {"type": "rule", "color": "black", "strokeWidth": 1},
      "encoding": {
        "x": {"field": "start", "type": "temporal", "axis": null},
        "x2": {"field": "end"},
        "y": {"field": "lead", "type": "quantitative"}
      }
    },
    {
      "data": {"name": "markers"},
      "mark": {"type": "point", "shape": "triangle-up", "filled": true, "color": "black", "size": 34, "opacity": 1, "clip": false},
      "encoding": {
        "x": {"field": "date", "type": "temporal", "axis": null},
        "y": {"field": "lead", "type": "quantitative"}
      }
    },
    {
      "data": {"name": "labels_left"},
      "mark": {"type": "text", "align": "left", "baseline": "middle", "fontSize": 15.5, "color": "black", "clip": false},
      "encoding": {
        "x": {"field": "date", "type": "temporal", "axis": null},
        "y": {"field": "lead", "type": "quantitative"},
        "text": {"field": "label"}
      }
    },
    {
      "data": {"name": "labels_centre"},
      "mark": {"type": "text", "align": "center", "baseline": "middle", "fontSize": 15.5, "color": "black", "lineBreak": "\n", "lineHeight": 18.7, "clip": false},
      "encoding": {
        "x": {"field": "date", "type": "temporal", "axis": null},
        "y": {"field": "lead", "type": "quantitative"},
        "text": {"field": "label"}
      }
    },
    {
      "data": {"name": "year_line"},
      "mark": {"type": "rule", "color": "black", "strokeWidth": 1, "clip": false},
      "encoding": {
        "x": {"field": "date", "type": "temporal", "axis": null},
        "y": {"field": "from", "type": "quantitative"},
        "y2": {"field": "to"}
      }
    },
    {
      "data": {"name": "starmer_label"},
      "mark": {"type": "text", "align": "left", "baseline": "alphabetic", "fontSize": 29, "color": "black", "clip": false},
      "encoding": {
        "x": {"field": "date", "type": "temporal", "axis": null},
        "y": {"field": "lead", "type": "quantitative"},
        "text": {"field": "label"}
      }
    },
    {
      "data": {"name": "bands"},
      "transform": [{"filter": "datum.start === '2021-06-26'"}],
      "mark": {"type": "rule", "color": "black", "strokeWidth": 1, "strokeDash": [5, 3]},
      "encoding": {
        "x": {"field": "start", "type": "temporal", "axis": null},
        "x2": {"field": "end"},
        "y": {"field": "upper", "type": "quantitative"}
      }
    },
    {
      "data": {"name": "starmer"},
      "mark": {"type": "line", "color": "black", "strokeWidth": 5, "strokeCap": "round", "clip": false},
      "encoding": {
        "x": {"field": "date", "type": "temporal", "axis": null},
        "y": {"field": "lead", "type": "quantitative"},
        "detail": {"field": "stroke"},
        "order": {"field": "seq"}
      }
    }
  ],
  "resolve": {"axis": {"x": "independent"}}
}
